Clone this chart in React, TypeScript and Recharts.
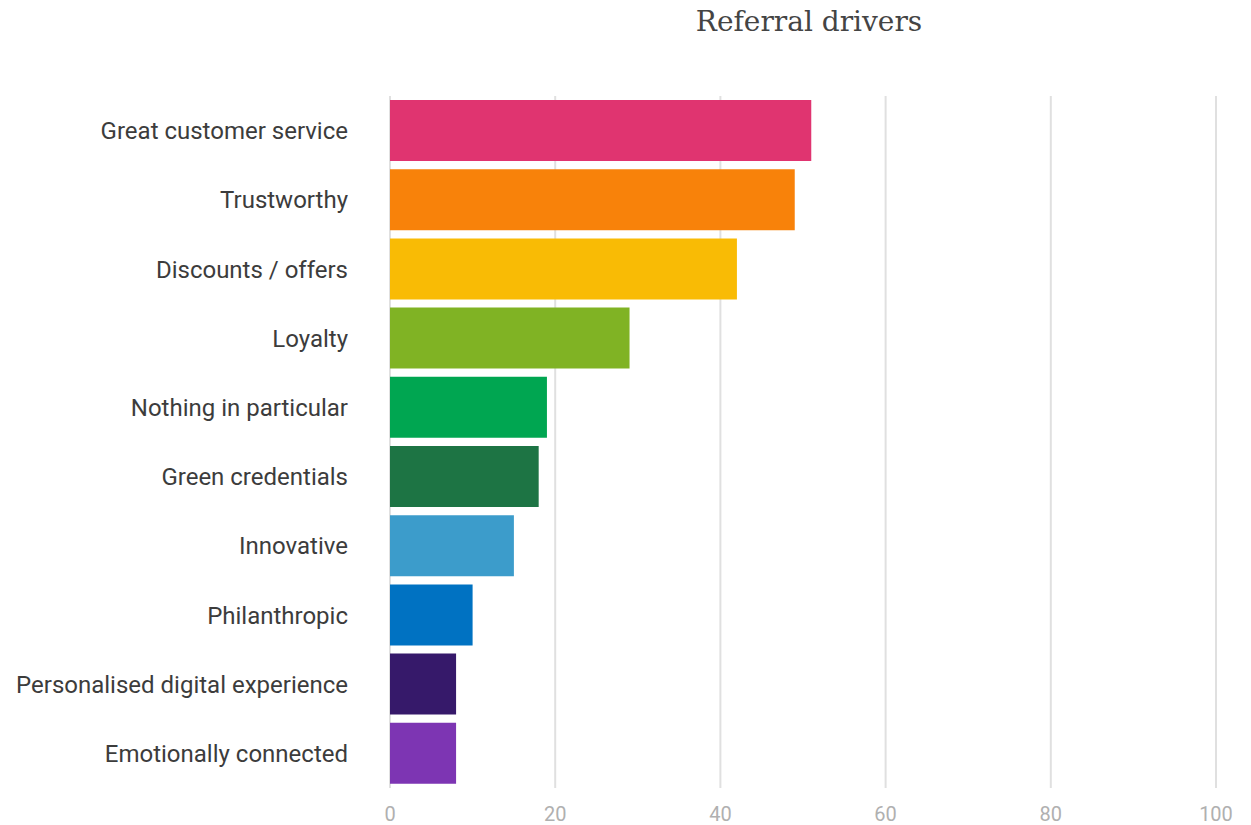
import React from 'react';
import { BarChart, Bar, XAxis, YAxis, CartesianGrid, Cell } from 'recharts';

const categories = [
  'Great customer service',
  'Trustworthy',
  'Discounts / offers',
  'Loyalty',
  'Nothing in particular',
  'Green credentials',
  'Innovative',
  'Philanthropic',
  'Personalised digital experience',
  'Emotionally connected',
];
const values = [51, 49, 42, 29, 19, 18, 15, 10, 8, 8];
const colors = [
  '#e03470', '#f8820a', '#f9bb05', '#80b324', '#00a651',
  '#1d7444', '#3c9ccb', '#0072c2', '#36196a', '#7d35b3',
];
const xTicks = [0, 20, 40, 60, 80, 100];

const data = categories.map((name, i) => ({ name, value: values[i] }));

const App = () => {
  return (
    <div style={{ position: 'absolute', left: 0, top: 0, width: 1251, height: 825, background: '#fff' }}>
      <div
        style={{
          position: 'absolute',
          top: 5,
          left: 609,
          width: 400,
          textAlign: 'center',
          fontFamily: '"DejaVu Serif", serif',
          fontSize: 28,
          color: '#444',
        }}
      >
        Referral drivers
      </div>
      <BarChart
        width={1251}
        height={825}
        data={data}
        layout="vertical"
        margin={{ top: 96, right: 35, left: 0, bottom: 0 }}
        barCategoryGap={4}
      >
        <CartesianGrid horizontal={false} stroke="#e0e0e0" strokeWidth={2} />
        <XAxis
          type="number"
          domain={[0, 100]}
          ticks={xTicks}
          axisLine={false}
          tickLine={false}
          tickSize={0}
          tickMargin={19}
          height={37}
          tick={{ fill: '#b0b0b0', fontSize: 20, fontFamily: 'Roboto' }}
        />
        <YAxis
          type="category"
          dataKey="name"
          width={390}
          axisLine={false}
          tickLine={false}
          tickSize={0}
          tickMargin={42}
          interval={0}
          tick={{ fill: '#3c3c3c', fontSize: 24, fontFamily: 'Roboto' }}
        />
        <Bar dataKey="value" isAnimationActive={false}>
          {data.map((d, i) => (
            <Cell key={d.name} fill={colors[i]} />
          ))}
        </Bar>
      </BarChart>
    </div>
  );
};

export default App;
